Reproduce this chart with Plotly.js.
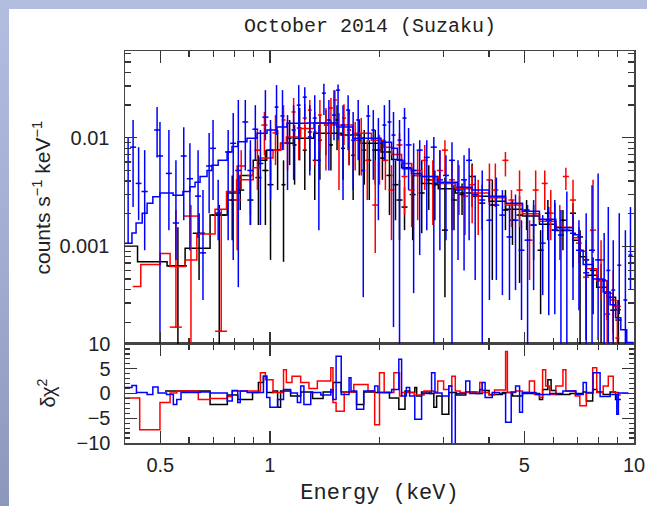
<!DOCTYPE html>
<html><head><meta charset="utf-8">
<script src="https://cdn.plot.ly/plotly-3.0.1.min.js"></script>
<style>
html,body{margin:0;padding:0;width:647px;height:506px;overflow:hidden;}
body{background:linear-gradient(to bottom,#b3bde0 0%,#a3add2 50%,#8c97bd 100%);}
#panel{position:absolute;left:9px;top:9px;width:638px;height:497px;background:#fff;}
#chart{position:absolute;left:0;top:0;width:647px;height:506px;}
</style></head><body><div id="panel"></div><div id="chart"></div>
<script>
// ---------- spectra (counts s^-1 keV^-1) ----------
var blackE = [0.559,0.639,0.726,0.788,0.829,0.884,0.930,0.972,1.004,1.050,1.090,1.133,1.169,1.207,1.247,1.287,1.328,1.372,1.425,1.471,1.529,1.588,1.650,1.693,1.760,1.816,1.875,1.947,2.037,2.130,2.213,2.270,2.343,2.467,2.612,2.731,2.838,3.025,3.203,3.371,3.593,3.830,4.082,4.435,4.637,4.849,5.07,5.30,5.54,5.80,6.06,6.38,6.80,7.11,7.39,7.72,8.12,8.44,8.77,9.06];
var blackDE = [0.033,0.025,0.033,0.020,0.021,0.017,0.018,0.019,0.019,0.020,0.014,0.014,0.015,0.015,0.016,0.016,0.017,0.017,0.018,0.019,0.019,0.020,0.021,0.021,0.022,0.023,0.024,0.037,0.039,0.041,0.042,0.043,0.045,0.047,0.050,0.052,0.054,0.058,0.061,0.065,0.069,0.073,0.078,0.085,0.089,0.093,0.097,0.101,0.106,0.111,0.116,0.122,0.130,0.136,0.142,0.148,0.156,0.162,0.168,0.174];
var blackV = [0.00066,0.00132,0.00194,0.00267,0.0033,0.00267,0.0043,0.0050,0.0037,0.0077,0.0037,0.0099,0.0086,0.0123,0.0077,0.0113,0.0062,0.0095,0.0131,0.0086,0.0146,0.0080,0.0118,0.0069,0.0095,0.0077,0.0062,0.0077,0.0065,0.0045,0.0037,0.00267,0.0023,0.0030,0.0031,0.0041,0.0037,0.00141,0.00267,0.0030,0.0044,0.0025,0.0024,0.00216,0.00174,0.00194,0.00216,0.00157,0.00092,0.00202,0.00141,0.00174,0.00202,0.00122,0.00075,0.00060,0.00049,0.00037,0.000258,0.000209];
var blackLo = [0,0.00049,0,0.00114,0.00216,0.00157,0.00157,0.00157,0.00075,0.0033,0.00072,0.0056,0.0037,0.0062,0.0033,0.0050,0.00267,0.0041,0.0069,0.0050,0.0077,0.0041,0.0056,0.00267,0.0045,0.0037,0.00267,0.0037,0.0041,0.00194,0.00174,0.00114,0.00141,0.00114,0.00132,0.00216,0.00174,0.00034,0.00141,0.00194,0.0023,0.00141,0.00049,0.00141,0.00103,0.00046,0.00141,0.00075,0.000237,0.00114,0.00049,0.00092,0.00064,0,0.000137,0.000237,0.000128,0.000209,0.000160,0];
var blackHi = [0.00150,0.00202,0.0024,0.0045,0.0045,0.0045,0.0069,0.0077,0.0062,0.0118,0.0062,0.0146,0.0131,0.0188,0.0131,0.0173,0.0118,0.0162,0.0180,0.0146,0.0200,0.0131,0.0180,0.0095,0.0146,0.0118,0.0095,0.0118,0.0095,0.0077,0.0062,0.0041,0.0035,0.0045,0.0062,0.0056,0.0050,0.0043,0.0037,0.0038,0.0058,0.0037,0.0041,0.0033,0.00267,0.0029,0.00267,0.0024,0.00141,0.00267,0.0025,0.00216,0.0025,0.00141,0.00114,0.00079,0.00069,0.00049,0.00037,0.00032];

var redE = [0.552,0.607,0.735,0.813,0.834,0.884,0.924,0.966,1.004,1.036,1.090,1.118,1.162,1.200,1.247,1.287,1.328,1.372,1.425,1.471,1.509,1.548,1.598,1.650,1.715,1.782,1.851,1.947,2.00,2.076,2.157,2.270,2.343,2.451,2.546,2.663,2.802,2.930,3.025,3.163,3.307,3.436,3.593,3.734,4.008,4.161,4.435,4.608,4.849,5.167,5.37,5.687,5.908,6.255,6.50,6.80,7.06,7.39,7.72,8.12,8.44,8.77,9.00];
var redDE = [0.021,0.027,0.028,0.021,0.021,0.017,0.018,0.019,0.019,0.020,0.014,0.014,0.015,0.015,0.016,0.016,0.017,0.017,0.018,0.019,0.019,0.020,0.020,0.021,0.022,0.023,0.024,0.037,0.025,0.040,0.041,0.043,0.045,0.047,0.049,0.051,0.054,0.056,0.058,0.061,0.063,0.066,0.069,0.072,0.077,0.080,0.085,0.088,0.093,0.099,0.103,0.109,0.113,0.120,0.125,0.130,0.135,0.142,0.148,0.156,0.162,0.168,0.115];
var redV = [0.000180,0.00190,0.000165,0.00267,0.0055,0.0045,0.0077,0.0131,0.0077,0.0111,0.0146,0.0089,0.0173,0.0123,0.0152,0.0180,0.0113,0.0162,0.0131,0.0188,0.0223,0.0106,0.0152,0.0118,0.0095,0.0099,0.0062,0.0024,0.0077,0.0062,0.0033,0.0086,0.0044,0.0033,0.0045,0.0062,0.0041,0.0050,0.0077,0.0041,0.0035,0.0029,0.0037,0.0029,0.0041,0.0033,0.0062,0.00267,0.0033,0.00114,0.0033,0.0038,0.00202,0.00150,0.0044,0.00267,0.00107,0.00052,0.00141,0.00075,0.000237,0.00032,0.000143];
var redLo = [0.000180,0,0.000165,0.00092,0.0033,0.00194,0.0033,0.0069,0.0041,0.0056,0.0077,0.0050,0.0095,0.0062,0.0077,0.0095,0.0056,0.0077,0.0050,0.0106,0.0131,0.0033,0.0086,0.0056,0.0050,0.0045,0.00267,0.00087,0.0037,0.0033,0.00114,0.0066,0.00194,0.00150,0.00174,0.0033,0.00157,0.0033,0.0045,0.00141,0.00194,0.00127,0.00163,0.00127,0.0024,0.0023,0.0044,0.00150,0.00150,0.00049,0.00194,0.00216,0.00114,0.00075,0.0033,0.00150,0.00070,0.00032,0.00087,0.00032,0,0.000137,0];
var redHi = [0.00216,0.0024,0.0022,0.0056,0.0077,0.0077,0.0118,0.0173,0.0123,0.0162,0.0200,0.0146,0.0233,0.0180,0.0204,0.0223,0.0173,0.0223,0.0188,0.0233,0.0275,0.0169,0.0204,0.0162,0.0140,0.0152,0.0095,0.0062,0.0106,0.0095,0.0056,0.0111,0.0062,0.0058,0.0077,0.0086,0.0062,0.0077,0.0095,0.0062,0.0056,0.0041,0.0056,0.0041,0.0058,0.0058,0.0074,0.0033,0.0050,0.00174,0.0050,0.0050,0.0033,0.0024,0.0053,0.0041,0.00150,0.00092,0.0041,0.00114,0.000395,0.00060,0.00032];

var blueE = [0.408,0.421,0.436,0.453,0.490,0.499,0.528,0.552,0.580,0.603,0.635,0.655,0.681,0.698,0.721,0.768,0.793,0.819,0.856,0.884,0.912,0.942,0.972,1.004,1.043,1.083,1.118,1.162,1.200,1.247,1.287,1.328,1.363,1.407,1.452,1.500,1.539,1.588,1.640,1.693,1.748,1.805,1.863,1.923,1.986,2.063,2.130,2.185,2.270,2.343,2.404,2.482,2.579,2.697,2.820,2.930,3.045,3.163,3.286,3.414,3.525,3.663,3.830,4.008,4.188,4.351,4.550,4.727,4.910,5.102,5.300,5.614,5.833,6.06,6.30,6.54,6.80,7.06,7.39,7.67,7.97,8.28,8.50,8.77,9.11,9.47,9.78];
var blueDE = [0.008,0.008,0.008,0.009,0.009,0.010,0.010,0.011,0.011,0.012,0.012,0.013,0.013,0.013,0.014,0.015,0.015,0.016,0.016,0.017,0.017,0.018,0.019,0.019,0.013,0.014,0.014,0.015,0.015,0.016,0.016,0.017,0.017,0.018,0.018,0.019,0.020,0.020,0.021,0.022,0.022,0.023,0.024,0.024,0.025,0.026,0.027,0.028,0.029,0.030,0.046,0.047,0.049,0.051,0.054,0.056,0.058,0.060,0.062,0.065,0.067,0.070,0.073,0.076,0.080,0.083,0.086,0.090,0.093,0.097,0.101,0.107,0.111,0.115,0.120,0.124,0.129,0.134,0.140,0.146,0.151,0.105,0.108,0.111,0.116,0.120,0.124];
var blueV = [0.0060,0.0082,0.0038,0.0032,0.0118,0.0068,0.0047,0.00164,0.0068,0.0042,0.0029,0.00087,0.0055,0.0080,0.00202,0.0074,0.0089,0.0050,0.0140,0.0050,0.0120,0.0058,0.0155,0.0077,0.0192,0.0159,0.0089,0.0118,0.0200,0.0237,0.0102,0.0152,0.0062,0.0258,0.0146,0.0162,0.0275,0.0131,0.0180,0.0095,0.0146,0.0050,0.0159,0.0118,0.0077,0.0131,0.0140,0.0106,0.0095,0.0152,0.0086,0.0050,0.0077,0.0066,0.0082,0.0041,0.0045,0.0062,0.0033,0.0041,0.0062,0.0030,0.00267,0.00174,0.0024,0.00194,0.00122,0.00174,0.00092,0.00114,0.00157,0.00107,0.00174,0.00141,0.00127,0.00141,0.00132,0.00092,0.00057,0.00092,0.00075,0.00049,0.00060,0.000395,0.00067,0.00032,0.00083];
var blueLo = [0.00107,0.0023,0.00174,0.00092,0.0066,0,0.00141,0.00075,0.00174,0.00092,0.00119,0.00032,0.00202,0.00267,0.00114,0.00114,0.00075,0.00042,0.0050,0.00157,0.0062,0.00157,0.0095,0.00267,0.0106,0.0077,0.0033,0.0041,0.0095,0.0146,0.0045,0.0062,0.00141,0.0162,0.0050,0.0095,0.0095,0.00267,0.0077,0.0033,0.0062,0.00034,0.0095,0.0041,0.00174,0.0062,0.0077,0.00018,0,0.0045,0.0033,0.00037,0.00083,0.00141,0,0.00092,0.00114,0,0.00075,0.00060,0.00114,0.00049,0,0.00032,0.00049,0.000355,0.00032,0.000395,0.000209,0,0.000395,0.000355,0.000232,0.000237,0,0,0.00032,0.000258,0,0,0.000137,0,0,0,0.000237,0,0.000395];
var blueHi = [0.0102,0.0146,0.0082,0.0077,0.0192,0.0140,0.0118,0.0062,0.0125,0.0089,0.0077,0.0033,0.0111,0.0146,0.0041,0.0118,0.0169,0.0223,0.0223,0.0095,0.0200,0.0118,0.0275,0.0146,0.0306,0.0275,0.0162,0.0200,0.0306,0.0293,0.0200,0.0247,0.0131,0.0315,0.0223,0.0275,0.031,0.0200,0.0247,0.0173,0.0223,0.0102,0.0200,0.0180,0.0152,0.0200,0.0223,0.0173,0.0146,0.0188,0.0123,0.0089,0.0095,0.0095,0.0102,0.0077,0.0069,0.0091,0.0062,0.0069,0.0080,0.0045,0.0050,0.0041,0.0043,0.0033,0.0024,0.0030,0.00174,0.0024,0.00267,0.00194,0.0023,0.00267,0.00216,0.0032,0.00202,0.00174,0.00202,0.00366,0.0047,0.00133,0.0023,0.00114,0.00202,0.00141,0.0023];

// ---------- folded models (bin edges, keV; values) ----------
var blackModE = [0.40,0.433,0.522,0.585,0.685,0.764,0.829,0.90,0.98,1.07,1.16,1.32,1.57,1.78,2.02,2.16,2.30,2.45,2.61,2.90,3.23,3.60,4.00,4.44,4.94,5.50,6.10,6.80,7.10,7.40,7.90,8.44,8.90,9.20];
var blackModV = [0.0010,0.00072,0.00066,0.00096,0.00194,0.0031,0.0045,0.0062,0.0077,0.0089,0.0099,0.0110,0.0106,0.0089,0.0074,0.0063,0.0053,0.0045,0.0038,0.0034,0.0031,0.0029,0.0026,0.0022,0.0019,0.0016,0.0014,0.00114,0.0008,0.00054,0.00042,0.00034,0.00026];
var redModE = [0.42,0.442,0.50,0.532,0.585,0.63,0.707,0.76,0.81,0.90,0.94,1.02,1.07,1.11,1.215,1.32,1.49,1.69,1.90,2.05,2.16,2.30,2.45,2.61,2.90,3.23,3.60,4.00,4.44,4.94,5.50,6.10,6.80,7.10,7.40,7.90,8.44,8.77,9.20];
var redModV = [0.000427,0.00068,0.00086,0.00065,0.00075,0.0013,0.0022,0.0032,0.0041,0.0053,0.0065,0.0077,0.0089,0.0102,0.0122,0.0136,0.0131,0.0110,0.0095,0.0082,0.0070,0.0058,0.0050,0.0044,0.0038,0.0034,0.0031,0.0028,0.0024,0.0020,0.0017,0.0015,0.0012,0.0009,0.00062,0.00048,0.00037,0.00028];
var blueModE = [0.40,0.418,0.429,0.446,0.46,0.477,0.499,0.542,0.577,0.603,0.623,0.643,0.672,0.693,0.721,0.763,0.787,0.817,0.865,0.922,0.982,1.046,1.114,1.265,1.528,1.69,2.02,2.16,2.24,2.32,2.45,2.61,2.88,3.27,3.59,4.00,4.44,4.94,5.50,6.10,6.80,7.10,7.25,7.72,8.23,8.60,8.90,9.20,9.55,9.96];
var blueModV = [0.00107,0.00133,0.00164,0.00202,0.0025,0.00286,0.0031,0.00296,0.0032,0.00354,0.0039,0.0044,0.0050,0.0056,0.0062,0.0074,0.0083,0.0092,0.0099,0.0110,0.0118,0.0126,0.0136,0.0137,0.0126,0.0099,0.0091,0.0080,0.0062,0.0052,0.0047,0.0044,0.0039,0.0035,0.0033,0.0029,0.0025,0.0021,0.00178,0.00148,0.00128,0.00092,0.00068,0.0005,0.00038,0.00029,0.00022,0.00017,0.00013];

// ---------- residuals (delta chi^2), bin edges in keV ----------
var blackResE = [0.515,0.685,0.764,0.816,0.896,0.93,0.96,0.98,1.02,1.05,1.07,1.14,1.215,1.31,1.40,1.49,1.57,1.73,1.81,1.94,2.13,2.26,2.35,2.42,2.50,2.53,2.61,2.75,2.82,2.87,2.97,3.10,3.25,3.45,3.68,3.83,4.00,4.35,4.64,4.94,5.50,5.61,5.80,5.92,6.10,6.67,7.25,7.40,7.70,7.90,8.23,8.60,8.90,9.20];
var blackResV = [0.5,-2.2,-0.3,-1.2,0.2,2.2,3.5,0.2,0.5,-2.8,0.5,-0.5,0.3,-1.0,0.3,2.2,0.3,-2.2,0.3,0.2,-0.9,-3.2,0.5,0.2,1.2,-0.5,0.3,0.0,-2.8,-0.5,-4.2,0.2,-0.3,0.3,0.0,0.6,-0.2,0.2,-0.5,0.0,-1.2,0.8,2.8,0.6,-0.2,0.0,0.3,-1.5,0.8,0.3,-0.2,0.3,-1.2];
var redResE = [0.40,0.439,0.499,0.532,0.555,0.636,0.685,0.764,0.788,0.942,0.972,1.02,1.09,1.11,1.15,1.215,1.28,1.35,1.47,1.49,1.52,1.60,1.70,1.86,1.94,2.00,2.06,2.19,2.27,2.30,2.49,2.65,2.82,2.89,3.00,3.10,3.16,3.23,3.33,3.54,3.77,3.83,4.00,4.14,4.44,4.49,4.73,4.94,5.16,5.33,5.50,5.61,5.72,5.87,6.10,6.38,6.50,6.90,7.10,7.40,7.70,7.90,8.23,8.50,8.77,9.06,9.20];
var redResV = [-0.9,-7.3,-1.8,0.1,0.5,-1.2,-1.0,-0.6,0.5,4.2,2.8,0.2,4.8,2.2,3.5,2.2,1.0,2.5,5.2,-1.8,-3.6,0.3,1.8,0.5,-6.3,4.2,0.2,4.2,-0.5,0.2,-0.3,0.5,0.3,2.5,0.8,1.5,3.5,0.5,0.2,0.3,2.2,0.2,-0.3,0.7,8.5,0.2,0.5,0.2,2.5,-0.2,-0.8,4.8,1.5,-0.2,1.5,4.8,0.5,-0.5,-2.5,0.2,5.2,0.2,1.5,3.5,0.2,-0.3];
var blueResE = [0.40,0.418,0.43,0.46,0.477,0.493,0.52,0.543,0.555,0.57,0.643,0.685,0.764,0.788,0.816,0.829,0.866,0.96,0.98,1.00,1.05,1.09,1.14,1.19,1.215,1.24,1.295,1.38,1.47,1.49,1.52,1.57,1.65,1.67,1.73,1.81,1.94,1.98,2.16,2.26,2.30,2.37,2.42,2.50,2.61,2.78,2.84,2.97,3.10,3.16,3.23,3.45,3.54,3.77,3.83,3.90,4.08,4.27,4.44,4.60,4.73,4.85,4.94,5.38,5.87,6.38,6.93,7.25,7.40,7.72,8.07,8.60,8.97,9.06,9.65];
var blueResV = [1.2,1.6,0.2,-0.2,1.3,0.1,-0.2,-2.2,-1.2,0.2,0.3,0.1,-1.5,0.6,-1.8,0.5,0.2,3.5,-0.8,-2.8,-1.2,0.8,0.1,-1.8,1.5,-2.2,0.2,-0.3,0.8,-1.2,7.5,-0.2,3.2,0.5,-3.2,0.5,1.5,0.2,0.8,6.9,-0.5,1.2,-0.5,-5.2,0.0,4.2,0.1,-0.5,1.5,-10.5,0.0,2.5,0.0,0.8,2.2,-0.8,0.2,0.0,-5.8,0.3,1.5,-3.8,0.2,-0.2,0.0,0.5,-0.2,2.2,0.1,4.2,-0.6,-0.2,-4.2,0.1];

// ---------- axis ticks ----------
var xMajor = [0.5, 1, 5, 10];
var xMajorText = ['0.5', '1', '5', '10'];
var xMinor = [0.4, 0.6, 0.7, 0.8, 0.9, 2, 3, 4, 6, 7, 8, 9];
var yTopMajor = [0.001, 0.01];
var yTopMajorText = ['0.001', '0.01'];
var yTopMinor = [0.0002,0.0003,0.0004,0.0005,0.0006,0.0007,0.0008,0.0009,0.002,0.003,0.004,0.005,0.006,0.007,0.008,0.009,0.02,0.03,0.04,0.05,0.06];
var yResMajor = [-10, -5, 0, 5, 10];
var yResMajorText = ['\u221210', '\u22125', '0', '5', '10'];
var yResMinor = [-9,-8,-7,-6,-4,-3,-2,-1,1,2,3,4,6,7,8,9];

var BLACK = '#000000', RED = '#ff0000', BLUE = '#0000ff';
var LW = 1.5;

function dataTrace(E, dE, V, Lo, Hi, color) {
  return {
    type: 'scatter', mode: 'markers', x: E, y: V, xaxis: 'x2', yaxis: 'y2',
    marker: {size: 2, color: color},
    error_x: {type: 'data', array: dE, symmetric: true, width: 0, thickness: LW, color: color},
    error_y: {type: 'data', symmetric: false,
      array: Hi.map(function (h, i) { return h - V[i]; }),
      arrayminus: Lo.map(function (l, i) { return V[i] - l; }),
      width: 0, thickness: LW, color: color},
    hoverinfo: 'skip', showlegend: false
  };
}
function stepTrace(E, V, color, xa, ya) {
  var y = V.concat([V[V.length - 1]]);
  return {
    type: 'scatter', mode: 'lines', x: E.slice(0, y.length), y: y, xaxis: xa, yaxis: ya,
    line: {shape: 'hv', color: color, width: LW}, hoverinfo: 'skip', showlegend: false
  };
}

var traces = [
  dataTrace(blackE, blackDE, blackV, blackLo, blackHi, BLACK),
  stepTrace(blackModE, blackModV, BLACK, 'x2', 'y2'),
  dataTrace(redE, redDE, redV, redLo, redHi, RED),
  stepTrace(redModE, redModV, RED, 'x2', 'y2'),
  dataTrace(blueE, blueDE, blueV, blueLo, blueHi, BLUE),
  stepTrace(blueModE, blueModV, BLUE, 'x2', 'y2'),
  stepTrace(blackResE, blackResV, BLACK, 'x', 'y'),
  stepTrace(redResE, redResV, RED, 'x', 'y'),
  stepTrace(blueResE, blueResV, BLUE, 'x', 'y'),
  {type: 'scatter', mode: 'markers', x: [1], y: [null], xaxis: 'x3', yaxis: 'y3', marker: {opacity: 0}, hoverinfo: 'skip', showlegend: false},
  {type: 'scatter', mode: 'markers', x: [1], y: [null], xaxis: 'x4', yaxis: 'y4', marker: {opacity: 0}, hoverinfo: 'skip', showlegend: false}
];

var XR = [Math.log10(0.4), 1];
var YTR = [-3.9, -1.2];
var YRR = [-10, 10];
var SPLIT = 0.2526;
var FRAME = '#444444';
var TICKC = '#333333';
var tickFont = {family: 'Liberation Sans, Arial, sans-serif', size: 20, color: '#222222'};

function baseAxis(extra) {
  var a = {showgrid: false, zeroline: false, ticks: 'inside', tickcolor: TICKC, tickwidth: 1.3,
           fixedrange: true, tickfont: tickFont};
  for (var k in extra) a[k] = extra[k];
  return a;
}

var layout = {
  width: 647, height: 506,
  paper_bgcolor: 'rgba(0,0,0,0)', plot_bgcolor: '#ffffff',
  margin: {l: 125, r: 13, t: 51, b: 63},
  showlegend: false,
  title: {text: 'October 2014 (Suzaku)', font: {family: 'Liberation Mono, Courier New, monospace', size: 20, color: '#222222'},
          xref: 'container', x: 370 / 647, xanchor: 'center', yref: 'container', y: 1 - 25 / 506, yanchor: 'middle'},
  // residual panel
  xaxis: baseAxis({type: 'log', range: XR, domain: [0, 1], anchor: 'y', ticklen: 12,
    tickvals: xMajor, ticktext: xMajorText, showline: true, mirror: 'ticks', linecolor: FRAME, linewidth: 1.5,
    ticklabelstandoff: 3,
    title: {text: 'Energy (keV)', font: {family: 'Liberation Mono, Courier New, monospace', size: 22, color: '#222222'}, standoff: 13}}),
  yaxis: baseAxis({range: YRR, domain: [0, SPLIT], anchor: 'x', ticklen: 12,
    tickvals: yResMajor, ticktext: yResMajorText, showline: true, mirror: 'ticks', linecolor: FRAME, linewidth: 1.5,
    ticklabelstandoff: 9}),
  // spectrum panel
  xaxis2: baseAxis({type: 'log', range: XR, domain: [0, 1], anchor: 'y2', ticklen: 12,
    tickvals: xMajor, showticklabels: false, showline: true, mirror: 'ticks', linecolor: FRAME, linewidth: 1.5}),
  yaxis2: baseAxis({type: 'log', range: YTR, domain: [SPLIT, 1], anchor: 'x2', ticklen: 12,
    tickvals: yTopMajor, ticktext: yTopMajorText, showline: true, mirror: 'ticks', linecolor: FRAME, linewidth: 1.5,
    ticklabelstandoff: 10}),
  // minor ticks
  xaxis3: baseAxis({type: 'log', range: XR, overlaying: 'x', anchor: 'y', ticklen: 6, tickvals: xMinor,
    showticklabels: false, showline: false, mirror: 'ticks'}),
  yaxis3: baseAxis({range: YRR, overlaying: 'y', anchor: 'x', ticklen: 5, tickvals: yResMinor,
    showticklabels: false, showline: false, mirror: 'ticks'}),
  xaxis4: baseAxis({type: 'log', range: XR, overlaying: 'x2', anchor: 'y2', ticklen: 6, tickvals: xMinor,
    showticklabels: false, showline: false, mirror: 'ticks'}),
  yaxis4: baseAxis({type: 'log', range: YTR, overlaying: 'y2', anchor: 'x2', ticklen: 6, tickvals: yTopMinor,
    showticklabels: false, showline: false, mirror: 'ticks'}),
  annotations: [
    {text: 'counts s<sup>\u22121</sup> keV<sup>\u22121</sup>', xref: 'paper', yref: 'paper',
     x: (42 - 125) / 509, y: (SPLIT + 1) / 2, xanchor: 'center', yanchor: 'middle', textangle: -90, showarrow: false,
     font: {family: 'Liberation Sans, Arial, sans-serif', size: 21, color: '#222222'}},
    {text: '\u03b4\u03c7<sup>2</sup>', xref: 'paper', yref: 'paper',
     x: (46 - 125) / 509, y: SPLIT / 2, xanchor: 'center', yanchor: 'middle', textangle: -90, showarrow: false,
     font: {family: 'Liberation Sans, Arial, sans-serif', size: 20, color: '#222222'}}
  ]
};

Plotly.newPlot('chart', traces, layout, {displayModeBar: false, staticPlot: true});
</script>
</body></html>
